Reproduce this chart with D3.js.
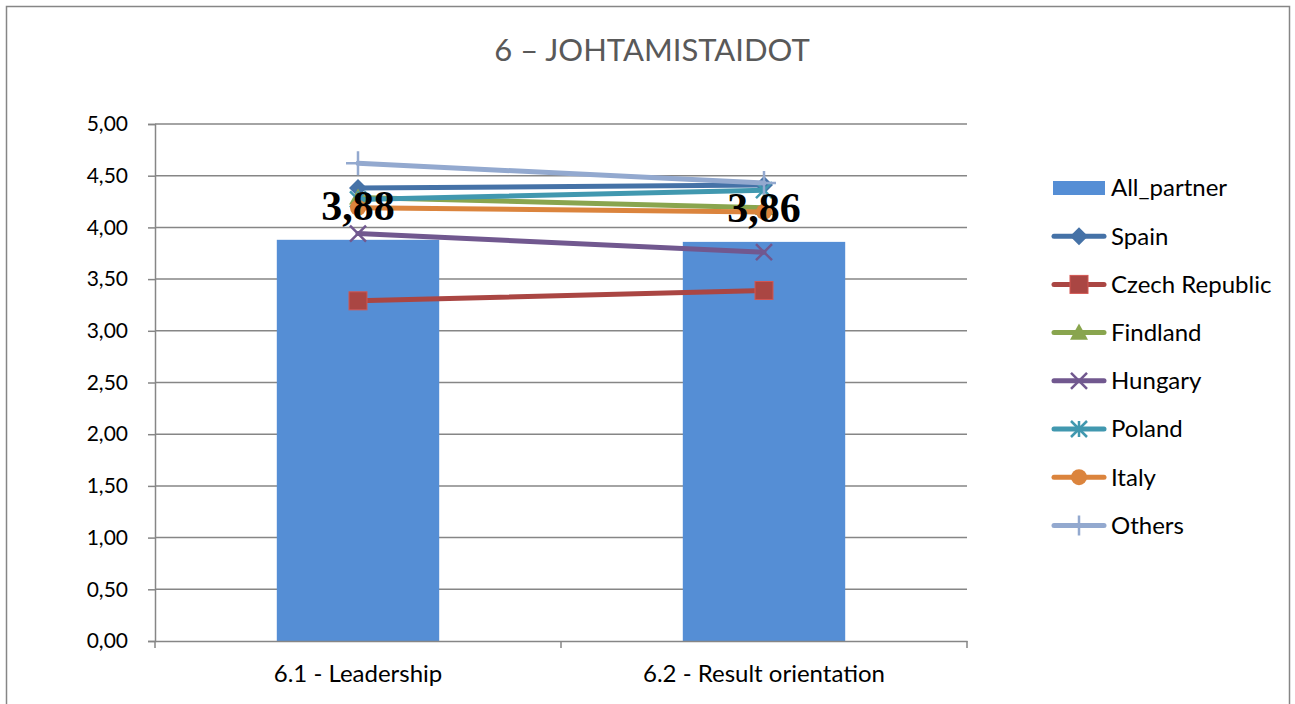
<!DOCTYPE html>
<html>
<head>
<meta charset="utf-8">
<script src="https://cdn.jsdelivr.net/npm/d3@7"></script>
<style>
  body { margin: 0; background: #fff; }
  svg { display: block; font-family: Lato, "Open Sans", sans-serif; }
</style>
</head>
<body>
<svg id="chart" width="1295" height="704"></svg>
<script>
// chart values
const categories = ["6.1 - Leadership", "6.2 - Result orientation"];
const barName = "All_partner";
const barValues = [3.88, 3.86];
const seriesNames = ["Spain", "Czech Republic", "Findland", "Hungary", "Poland", "Italy", "Others"];
const spain = [4.38, 4.41];
const czech = [3.29, 3.39];
const findland = [4.29, 4.19];
const hungary = [3.94, 3.76];
const poland = [4.27, 4.36];
const italy = [4.19, 4.15];
const others = [4.62, 4.43];
const yTicks = [0, 0.5, 1, 1.5, 2, 2.5, 3, 3.5, 4, 4.5, 5];

const seriesValues = [spain, czech, findland, hungary, poland, italy, others];
const colors = ["#4572A7", "#AA4643", "#89A54E", "#71588F", "#4198AF", "#DB843D", "#93A9CF"];
const symbols = ["diamond", "square", "triangle", "x", "star", "circle", "plus"];

const svg = d3.select("#chart");
const margin = {top: 124, left: 155, right: 328, bottom: 63};
const width = 1295 - margin.left - margin.right;
const height = 704 - margin.top - margin.bottom;
const font = "Lato, 'Open Sans', sans-serif";

const fmt = v => d3.format(".2f")(v).replace(".", ",");

// outer frame
svg.append("rect")
    .attr("x", 6.5).attr("y", 6.5)
    .attr("width", 1283).attr("height", 720)
    .attr("fill", "none").attr("stroke", "#868686").attr("stroke-width", 1.5);

svg.append("text")
    .attr("x", 652).attr("y", 61)
    .attr("text-anchor", "middle")
    .attr("font-size", 31)
    .attr("fill", "#595959")
    .text("6 \u2013 JOHTAMISTAIDOT");

const g = svg.append("g").attr("transform", "translate(" + margin.left + "," + margin.top + ")");

const x = d3.scaleBand().domain(categories).range([0, width]);
const y = d3.scaleLinear().domain([0, 5]).range([height, 0]);

// gridlines
g.selectAll(".grid")
    .data(yTicks.filter(d => d > 0))
    .enter().append("line")
    .attr("x1", 0).attr("x2", width)
    .attr("y1", d => y(d)).attr("y2", d => y(d))
    .attr("stroke", "#868686").attr("stroke-width", 1.5);

// y axis
const yAxis = g.append("g")
    .call(d3.axisLeft(y).tickValues(yTicks).tickSize(7).tickPadding(20).tickFormat(fmt));
yAxis.select(".domain").attr("stroke", "#868686").attr("stroke-width", 1.5);
yAxis.selectAll(".tick line").attr("stroke", "#868686").attr("stroke-width", 1.5);
yAxis.selectAll("text").attr("font-size", 21).attr("fill", "#000")
    .attr("font-family", font);

// bars
const barW = x.bandwidth() * 0.4;
g.selectAll(".bar")
    .data(barValues)
    .enter().append("rect")
    .attr("x", (d, i) => x(categories[i]) + x.bandwidth() / 2 - barW / 2)
    .attr("y", d => y(d))
    .attr("width", barW)
    .attr("height", d => height - y(d))
    .attr("fill", "#558ED5");

// x axis
const xAxis = g.append("g")
    .attr("transform", "translate(0," + height + ")")
    .call(d3.axisBottom(x).tickSize(0).tickPadding(24));
xAxis.select(".domain").attr("stroke", "#868686").attr("stroke-width", 1.5);
xAxis.selectAll("text").attr("font-size", 24).attr("fill", "#000")
    .attr("font-family", font);
// boundary ticks
g.selectAll(".xb")
    .data([0, width / 2, width])
    .enter().append("line")
    .attr("x1", d => d).attr("x2", d => d)
    .attr("y1", height).attr("y2", height + 7)
    .attr("stroke", "#868686").attr("stroke-width", 1.5);

const cx = c => x(c) + x.bandwidth() / 2;

function drawMarker(sel, type, color, size) {
    const s = size;
    if (type === "diamond") {
        sel.append("path").attr("d", `M0,${-s}L${s},0L0,${s}L${-s},0Z`).attr("fill", color);
    } else if (type === "square") {
        sel.append("rect").attr("x", -s).attr("y", -s).attr("width", 2 * s).attr("height", 2 * s)
            .attr("fill", color).attr("stroke", d3.color(color).brighter(0.6)).attr("stroke-width", 1);
    } else if (type === "triangle") {
        sel.append("path").attr("d", `M0,${-s}L${s},${s * 0.8}L${-s},${s * 0.8}Z`).attr("fill", color);
    } else if (type === "x") {
        sel.append("path").attr("d", `M${-s},${-s}L${s},${s}M${-s},${s}L${s},${-s}`)
            .attr("stroke", color).attr("stroke-width", 2.5).attr("fill", "none");
    } else if (type === "star") {
        sel.append("path").attr("d", `M${-s},${-s}L${s},${s}M${-s},${s}L${s},${-s}M0,${-s}L0,${s}`)
            .attr("stroke", color).attr("stroke-width", 2.5).attr("fill", "none");
    } else if (type === "circle") {
        sel.append("circle").attr("r", s).attr("fill", color);
    } else if (type === "plus") {
        sel.append("path").attr("d", `M${-s},0L${s},0M0,${-s}L0,${s}`)
            .attr("stroke", color).attr("stroke-width", 2.5).attr("fill", "none");
    }
}

const line = d3.line().x((d, i) => cx(categories[i])).y(d => y(d));
const sizes = {diamond: 9, square: 9, triangle: 9, x: 8, star: 8, circle: 8, plus: 12};

seriesValues.forEach((vals, k) => {
    g.append("path")
        .attr("d", line(vals))
        .attr("fill", "none")
        .attr("stroke", colors[k])
        .attr("stroke-width", 5)
        .attr("stroke-linecap", "round");
    vals.forEach((v, i) => {
        const m = g.append("g").attr("transform", "translate(" + cx(categories[i]) + "," + y(v) + ")");
        drawMarker(m, symbols[k], colors[k], sizes[symbols[k]]);
    });
});

// data labels for the bars
g.selectAll(".lbl")
    .data(barValues)
    .enter().append("text")
    .attr("x", (d, i) => cx(categories[i]))
    .attr("y", d => y(d) - 20)
    .attr("text-anchor", "middle")
    .attr("font-family", "'Liberation Serif', 'DejaVu Serif', serif")
    .attr("font-weight", "bold")
    .attr("font-size", 42)
    .attr("fill", "#000")
    .text(fmt);

// legend
const legend = svg.append("g").attr("transform", "translate(1053,188)");
const rowH = 48.2;
legend.append("rect").attr("x", 0).attr("y", -7).attr("width", 52).attr("height", 14).attr("fill", "#558ED5");
legend.append("text").attr("x", 58).attr("y", 0).attr("dy", "0.35em")
    .attr("font-size", 24).attr("font-family", font).text(barName);
seriesNames.forEach((name, k) => {
    const row = legend.append("g").attr("transform", "translate(0," + (rowH * (k + 1)) + ")");
    row.append("line").attr("x1", 1).attr("x2", 51).attr("y1", 0).attr("y2", 0)
        .attr("stroke", colors[k]).attr("stroke-width", 5).attr("stroke-linecap", "round");
    const m = row.append("g").attr("transform", "translate(26,0)");
    drawMarker(m, symbols[k], colors[k], symbols[k] === "plus" ? 10 : sizes[symbols[k]]);
    row.append("text").attr("x", 58).attr("y", 0).attr("dy", "0.35em")
        .attr("font-size", 24).attr("font-family", font).text(name);
});
</script>
</body>
</html>
